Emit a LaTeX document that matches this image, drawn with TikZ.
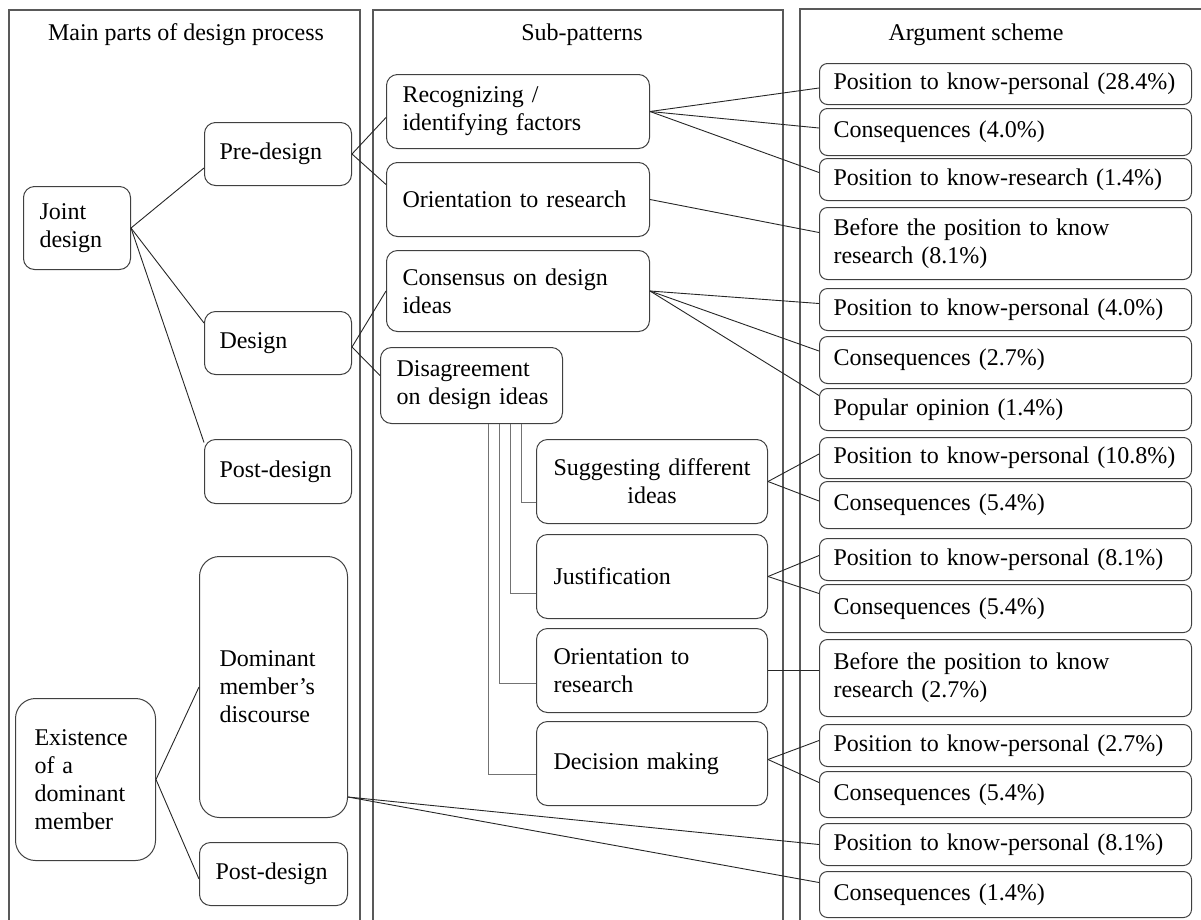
\documentclass[tikz,border=0pt]{standalone}
\usepackage{fontspec}
\setmainfont{Liberation Serif}
\begin{document}
\begin{tikzpicture}[x=1pt,y=-1pt,
  every node/.style={font=\fontsize{24}{28}\selectfont},
  panel/.style={draw=black!65,line width=1.2pt},
  box/.style={draw=black!75,line width=1pt,rounded corners=11pt,anchor=north west,
    inner ysep=0pt,align=left},
  rbox/.style={box,rounded corners=8pt,inner xsep=14pt,text width=344pt},
  link/.style={draw=black!85,line width=0.9pt},
  elbow/.style={draw=black!55,line width=0.9pt},
  head/.style={anchor=base}]
\useasboundingbox (0,0) rectangle (1201,919);

% column frames (open at the bottom)
\draw[panel] (9,930) -- (9,10) -- (360,10) -- (360,930);
\draw[panel] (373,930) -- (373,10) -- (783,10) -- (783,930);
\draw[panel] (800,930) -- (800,9) -- (1210,9);

% column headings
\node[head] (h1) at (186,40) {Main parts of design process};
\node[head] (h2) at (582,40) {Sub-patterns};
\node[head] (h3) at (976,40) {Argument scheme};

% main parts of the design process
\node[box,inner xsep=16pt,text width=75pt,minimum height=83pt] (joint) at (23,186) {Joint\\design};
\node[box,inner xsep=15pt,text width=117pt,minimum height=63pt] (pre) at (204,122) {Pre-design};
\node[box,inner xsep=15pt,text width=117pt,minimum height=63pt] (des) at (204,311) {Design};
\node[box,inner xsep=15pt,text width=117pt,minimum height=64pt] (post) at (204,439) {Post-design};
\node[box,rounded corners=20pt,inner xsep=19pt,text width=102pt,minimum height=162pt] (exist) at (15,698) {Existence\\of a\\dominant\\member};
\node[box,rounded corners=20pt,inner xsep=20pt,text width=108pt,minimum height=261pt] (dom) at (199,556) {Dominant\\member’s\\discourse};
\node[box,inner xsep=16pt,text width=116pt,minimum height=63pt] (postb) at (199,842) {Post-design};

% sub-patterns
\node[box,inner xsep=16pt,text width=231pt,minimum height=74pt] (rec) at (386,74) {Recognizing /\\identifying factors};
\node[box,inner xsep=16pt,text width=231pt,minimum height=74pt] (ori) at (386,162) {Orientation to research};
\node[box,inner xsep=16pt,text width=231pt,minimum height=81pt] (cons) at (386,250) {Consensus on design\\ideas};
\node[box,inner xsep=16pt,text width=150pt,minimum height=76pt] (dis) at (380,347) {Disagreement\\\mbox{on design ideas}};
\node[box,align=center,inner xsep=15pt,text width=201pt,minimum height=84pt] (sug) at (536,439) {Suggesting different\\ideas};
\node[box,inner xsep=17pt,text width=197pt,minimum height=84pt] (just) at (536,534) {Justification};
\node[box,inner xsep=17pt,text width=197pt,minimum height=84pt] (orib) at (536,628) {Orientation to\\research};
\node[box,inner xsep=17pt,text width=197pt,minimum height=84pt] (dec) at (536,721) {Decision making};

% argument schemes
\node[rbox,minimum height=41pt] (a1) at (819,63) {Position to know-personal (28.4\%)};
\node[rbox,minimum height=47pt] (a2) at (819,108) {Consequences (4.0\%)};
\node[rbox,minimum height=42pt] (a3) at (819,158) {Position to know-research (1.4\%)};
\node[rbox,minimum height=72pt] (a4) at (819,207) {Before the position to know\\research (8.1\%)};
\node[rbox,minimum height=42pt] (a5) at (819,288) {Position to know-personal (4.0\%)};
\node[rbox,minimum height=47pt] (a6) at (819,336) {Consequences (2.7\%)};
\node[rbox,minimum height=42pt] (a7) at (819,388) {Popular opinion (1.4\%)};
\node[rbox,minimum height=41pt] (a8) at (819,437) {Position to know-personal (10.8\%)};
\node[rbox,minimum height=47pt] (a9) at (819,481) {Consequences (5.4\%)};
\node[rbox,minimum height=42pt] (a10) at (819,538) {Position to know-personal (8.1\%)};
\node[rbox,minimum height=48pt] (a11) at (819,584) {Consequences (5.4\%)};
\node[rbox,minimum height=77pt] (a12) at (819,639) {Before the position to know\\research (2.7\%)};
\node[rbox,minimum height=42pt] (a13) at (819,724) {Position to know-personal (2.7\%)};
\node[rbox,minimum height=46pt] (a14) at (819,771) {Consequences (5.4\%)};
\node[rbox,minimum height=42pt] (a15) at (819,823) {Position to know-personal (8.1\%)};
\node[rbox,minimum height=46pt] (a16) at (819,871) {Consequences (1.4\%)};

% links between the first two columns
\draw[link] (joint.east) -- ([yshift=-14pt]pre.west);
\draw[link] (joint.east) -- ([yshift=20pt]des.west);
\draw[link] (joint.east) -- ([yshift=29pt]post.west);
\draw[link] (exist.east) -- (dom.west);
\draw[link] (exist.east) -- ([yshift=-5pt]postb.west);

% links into the sub-patterns
\draw[link] (pre.east) -- ([yshift=-6pt]rec.west);
\draw[link] (pre.east) -- ([yshift=15pt]ori.west);
\draw[link] ([yshift=-4pt]des.east) -- (cons.west);
\draw[link] ([yshift=-4pt]des.east) -- ([yshift=10pt]dis.west);

% branches of the disagreement pattern
\draw[elbow] ([xshift=50pt]dis.south) |- ([yshift=-21pt]sug.west);
\draw[elbow] ([xshift=39pt]dis.south) |- ([yshift=-17pt]just.west);
\draw[elbow] ([xshift=28pt]dis.south) |- ([yshift=-13pt]orib.west);
\draw[elbow] ([xshift=17pt]dis.south) |- ([yshift=-11pt]dec.west);

% links into the argument schemes
\draw[link] (rec.east) -- ([yshift=-4pt]a1.west);
\draw[link] (rec.east) -- ([yshift=4pt]a2.west);
\draw[link] (rec.east) -- ([yshift=7pt]a3.west);
\draw[link] (ori.east) -- ([yshift=11pt]a4.west);
\draw[link] (cons.east) -- ([yshift=6pt]a5.west);
\draw[link] (cons.east) -- ([yshift=9pt]a6.west);
\draw[link] (cons.east) -- ([yshift=14pt]a7.west);
\draw[link] (sug.east) -- ([yshift=4pt]a8.west);
\draw[link] (sug.east) -- ([yshift=4pt]a9.west);
\draw[link] (just.east) -- ([yshift=4pt]a10.west);
\draw[link] (just.east) -- ([yshift=15pt]a11.west);
\draw[link] (orib.east) -- (orib.east -| a12.west);
\draw[link] ([yshift=4pt]dec.east) -- ([yshift=5pt]a13.west);
\draw[link] ([yshift=4pt]dec.east) -- ([yshift=12pt]a14.west);
\draw[link] ([yshift=21pt]dom.south east) -- (a15.west);
\draw[link] ([yshift=21pt]dom.south east) -- ([yshift=12pt]a16.west);
\end{tikzpicture}
\end{document}
